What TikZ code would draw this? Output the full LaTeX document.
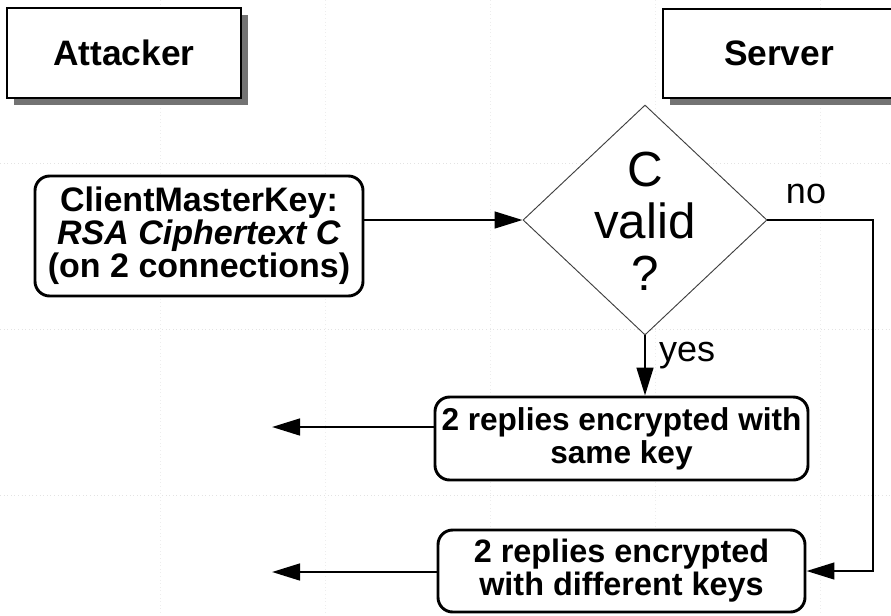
\documentclass[tikz,border=0pt]{standalone}
\usepackage{fontspec}
\setmainfont{Liberation Sans}
\usetikzlibrary{arrows.meta,shapes.geometric,shadows}
\begin{document}
\begin{tikzpicture}[x=0.75pt,y=-0.75pt,
  hgrid/.style={gray!22,dotted,line width=0.7pt},
  vgrid/.style={gray!14,dotted,line width=0.7pt},
  titlebox/.style={draw=black,line width=2.2pt,fill=white,inner sep=0pt,
    font=\bfseries\fontsize{26.5}{30}\selectfont,
    drop shadow={shadow xshift=5.5pt,shadow yshift=-5.5pt,fill=gray!90!black,opacity=1}},
  rbox/.style={draw=black,line width=2.2pt,rounded corners=11pt,fill=white,inner sep=0pt,
    align=center,font=\bfseries\fontsize{24.3}{24.75}\selectfont},
  arr/.style={line width=1.9pt,-{Triangle[length=21pt,width=12.5pt]}},
  lbl/.style={font=\fontsize{27}{30}\selectfont},
]
\useasboundingbox (0,0) rectangle (891,615);
% faint background grid
\foreach \yy in {163,329,495} \draw[hgrid] (0,\yy) -- (891,\yy);
\foreach \xx in {160,325,490,655,820} \draw[vgrid] (\xx,0) -- (\xx,615);

\node[titlebox,minimum width=175.5pt,minimum height=67.5pt] (att) at (124,53) {Attacker};
\node[titlebox,minimum width=174pt,minimum height=66.75pt] (srv) at (779,53.5) {Server};

\node[rbox,minimum width=246pt,minimum height=90pt,font=\bfseries\fontsize{25.5}{24.75}\selectfont] (cmk) at (199,236)
  {ClientMasterKey:\\\textit{RSA Ciphertext C}\\(on 2 connections)};

\node[draw=gray!50!black,line width=0.7pt,diamond,minimum width=183pt,minimum height=172.5pt,inner sep=0pt,fill=white] (d) at (645,220) {};
\node[align=center,font=\fontsize{37}{39}\selectfont] (dt) at (645,221) {C\\valid\\?};

\node[rbox,minimum width=279.75pt,minimum height=62.25pt,font=\bfseries\fontsize{23.7}{24.75}\selectfont] (mid) at (621.5,438.5)
  {2 replies encrypted with\\same key};
\node[rbox,minimum width=275.25pt,minimum height=61.5pt] (bot) at (621.5,571)
  {2 replies encrypted\\with different keys};

\node[lbl] (no) at (806,194) {no};
\node[lbl] (yes) at (687,356) {yes};

\coordinate (nc) at (873,220);
\coordinate (o1) at (272,427);
\coordinate (o2) at (272,572);

\draw[arr] (cmk.east |- d.west) -- (d.west);
\draw[arr] (d.south) -- (d.south |- mid.north);
\draw[arr] (d.east) -- (nc) |- (bot.east);
\draw[arr] (mid.west |- o1) -- (o1);
\draw[arr] (bot.west |- o2) -- (o2);
\end{tikzpicture}
\end{document}
